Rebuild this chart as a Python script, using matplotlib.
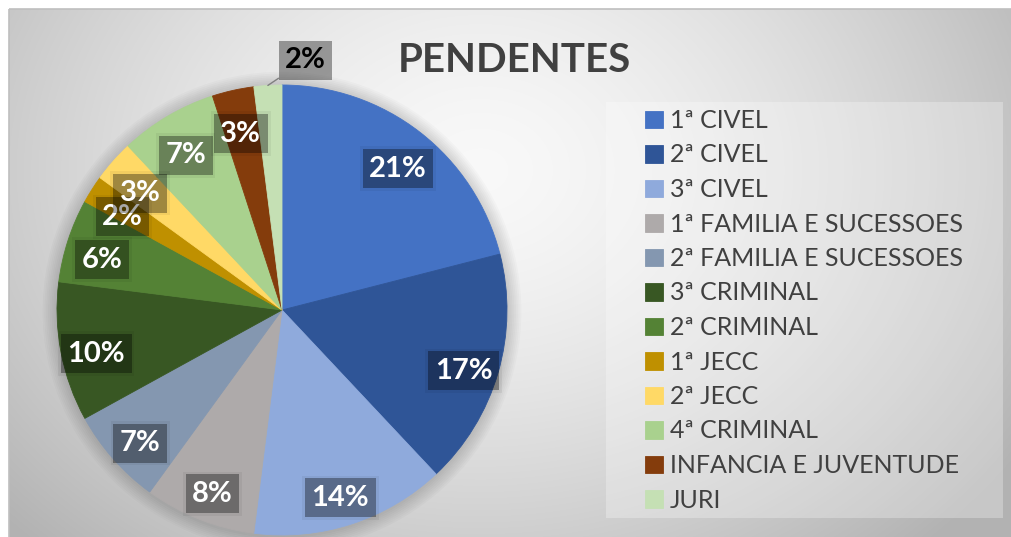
import numpy as np
import matplotlib
matplotlib.use("Agg")
import matplotlib.pyplot as plt
from matplotlib.patches import Rectangle, Circle

# ---- data ----
categories = ["1ª CIVEL", "2ª CIVEL", "3ª CIVEL", "1ª FAMILIA E SUCESSOES",
              "2ª FAMILIA E SUCESSOES", "3ª CRIMINAL", "2ª CRIMINAL", "1ª JECC",
              "2ª JECC", "4ª CRIMINAL", "INFANCIA E JUVENTUDE", "JURI"]
values = [21, 17, 14, 8, 7, 10, 6, 2, 3, 7, 3, 2]
colors = ["#4472C4", "#2F5597", "#8FAADC", "#AEAAAA", "#8497B0", "#385723",
          "#548235", "#BF9000", "#FFD966", "#A9D18E", "#843C0C", "#C5E0B4"]
title = "PENDENTES"

W, H = 1011, 537
fig = plt.figure(figsize=(W / 100, H / 100), dpi=100)
fig.patch.set_facecolor("white")

# ---- background (radial gradient chart area) ----
bg = fig.add_axes([0, 0, 1, 1])
bg.set_xlim(0, W)
bg.set_ylim(H, 0)
bg.axis("off")
yy, xx = np.mgrid[9:H:1.0, 9:W:1.0]
d = np.sqrt(((xx - 480) / 540) ** 2 + ((yy - 170) / 430) ** 2)
d = np.clip(d, 0, 1.2) ** 1.5
g = np.clip(0.975 - 0.21 * d, 0, 1)
img = np.dstack([g, g, g])
bg.imshow(img, extent=(9, W, H, 9), aspect="auto", interpolation="bilinear")
bg.add_patch(Rectangle((9, 9), W, H, fill=False, ec="#BFBFBF", lw=1.2))
# legend background
bg.add_patch(Rectangle((606, 102), 397, 416, fc="white", alpha=0.28, ec="none"))

# ---- pie ----
cx, cy, R = 282, 310, 225
ax = fig.add_axes([(cx - R) / W, (H - cy - R) / H, 2 * R / W, 2 * R / H])
ax.axis("off")
# soft shadow
for k in range(8):
    ax.add_patch(Circle((0.0, -0.005), 1.0 + 0.008 * (k + 1), fc="black",
                        alpha=0.018, ec="none", zorder=0, clip_on=False))

lbl_font = dict(fontsize=21, fontweight="bold", family="Lato")
wedges, texts, autotexts = ax.pie(
    values, colors=colors, startangle=90, counterclock=False,
    autopct="%.0f%%", pctdistance=0.84, radius=1.0,
    wedgeprops=dict(linewidth=0),
    textprops=dict(color="white", **lbl_font))
for w, c in zip(wedges, colors):
    w.set_clip_on(False)
    w.set_edgecolor(c)
    w.set_linewidth(0.6)
ax.set_xlim(-1, 1)
ax.set_ylim(-1, 1)

for t in autotexts[:-1]:
    x, y = t.get_position()
    y -= 0.025
    t.set_position((x, y))
    t.set_va("center_baseline")
    t.set_zorder(5)
    t.set_bbox(dict(boxstyle="square,pad=0.22", fc="black", alpha=0.34, ec="none"))
    ax.text(x, y, t.get_text(), color="none", ha="center", va="center_baseline",
            zorder=4, bbox=dict(boxstyle="square,pad=0.32", fc="black",
                                alpha=0.05, ec="none"), **lbl_font)

# JURI label outside with leader line
last = wedges[-1]
ang = np.deg2rad((last.theta1 + last.theta2) / 2)
autotexts[-1].set_visible(False)
ax.annotate(autotexts[-1].get_text(), xy=(np.cos(ang), np.sin(ang)),
            xytext=(27, 20), textcoords="offset points", ha="center",
            va="center_baseline", color="black",
            bbox=dict(boxstyle="square,pad=0.22", fc="black", alpha=0.36, ec="none"),
            arrowprops=dict(arrowstyle="-", color="#7F7F7F", lw=1.0,
                            shrinkA=0, shrinkB=0),
            annotation_clip=False, **lbl_font)

# ---- title ----
fig.text(514 / W, 1 - 60 / H, title, ha="center", va="center", fontsize=29,
         fontweight="bold", color="#404040", family="Lato")

# ---- legend ----
leg = fig.legend(wedges, categories, loc="upper left",
                 bbox_to_anchor=(645 / W, 1 - 109 / H), frameon=False,
                 handlelength=0.7, handleheight=0.7,
                 handletextpad=0.3, labelspacing=0.46, borderpad=0,
                 borderaxespad=0, prop=dict(family="Lato", size=18))
for t in leg.get_texts():
    t.set_color("#404040")

fig.savefig("out.png", dpi=100)
